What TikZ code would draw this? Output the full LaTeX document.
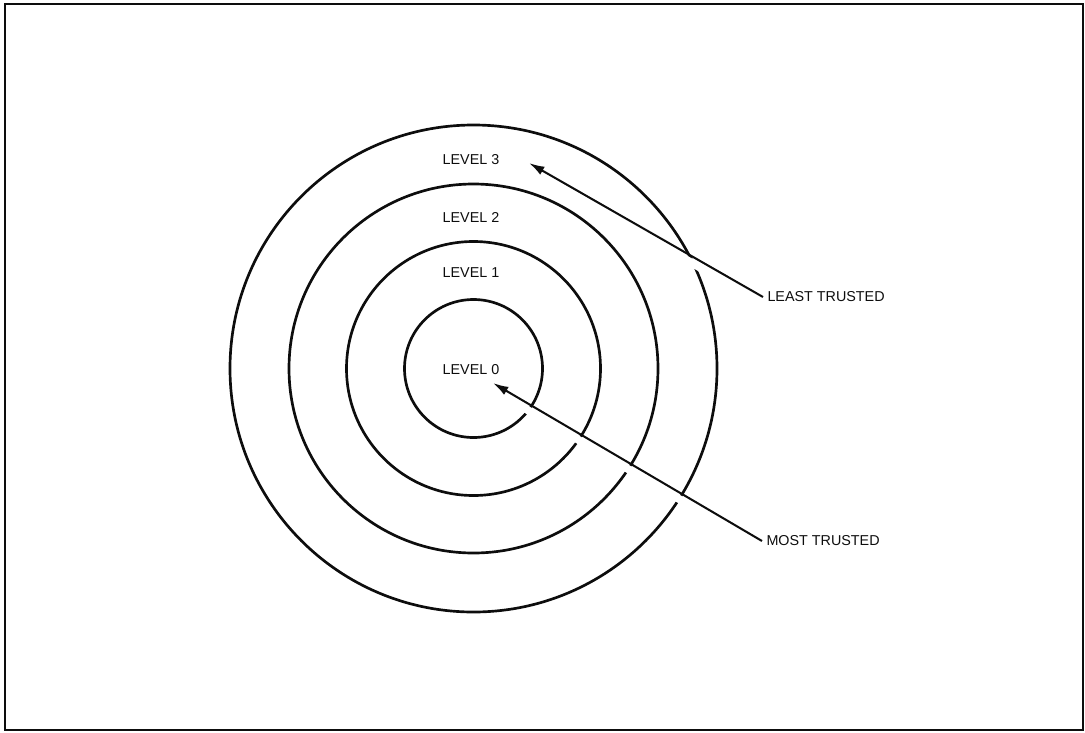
\documentclass[tikz,border=0pt]{standalone}
\usepackage{fontspec}
\setmainfont{Liberation Sans}
\usepackage{tikz}
\usetikzlibrary{arrows.meta,positioning,calc}
\definecolor{RingInk}{HTML}{0D0D0D}
\tikzset{
  ringtext/.style={font=\fontsize{10.2}{12}\selectfont, text=RingInk, inner sep=3pt},
  ringline/.style={draw=RingInk, line width=1.9pt},
  ringgap/.style={draw=white, line width=5.6pt},
  trustarrow/.style={-{Latex[length=11pt,width=6.5pt]}, line width=1.45pt, draw=RingInk},
  frameline/.style={draw=RingInk, line width=2pt}
}
\begin{document}
\begin{tikzpicture}[x=0.025cm, y=-0.025cm, every node/.style={ringtext}]
\useasboundingbox (0,0) rectangle (1085,732);
\draw[frameline] (5,4) rectangle (1083,730);
% the four rings
\coordinate (c) at (473.5,368.5);
\foreach \r in {69,127,184.5,243.5}{\draw[ringline] (c) circle[radius=\r];}
\node (l3) at (471,160) {LEVEL 3};
\node (l2) at (471,217) {LEVEL 2};
\node (l1) at (471,273) {LEVEL 1};
\node (l0) at (471,370) {LEVEL 0};
\node[anchor=west] (least) at (763,297) {LEAST TRUSTED};
\node[anchor=west] (most) at (762,541) {MOST TRUSTED};
\coordinate (lt) at (529,163);
\coordinate (mt) at (493,383);
% breaks in the rings just below the arrows
\draw[ringgap] ($(lt)+(-2.9,5)$) -- ($(lt)!0.9!(least.west)+(-2.9,5)$);
\draw[ringgap] ($(mt)+(-2.9,5)$) -- ($(mt)!0.9!(most.west)+(-2.9,5)$);
\draw[trustarrow] (least.west) -- (lt);
\draw[trustarrow] (most.west) -- (mt);
\end{tikzpicture}
\end{document}
